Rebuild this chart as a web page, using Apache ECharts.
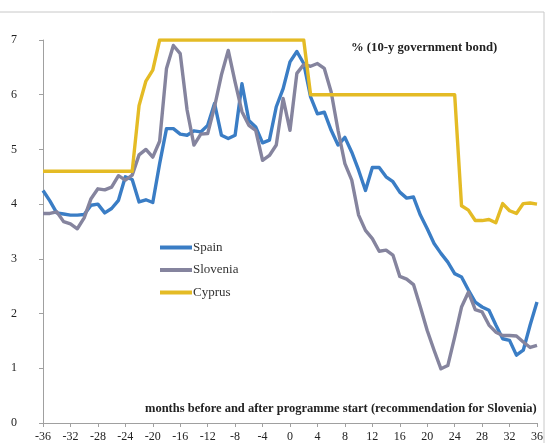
<!DOCTYPE html>
<html>
<head>
<meta charset="utf-8">
<script src="https://cdn.jsdelivr.net/npm/echarts@6/dist/echarts.min.js"></script>
<style>html,body{margin:0;padding:0;background:#fff;}#c{width:546px;height:443px;}</style>
</head>
<body>
<div id="c"></div>
<script>
var months = [-36,-35,-34,-33,-32,-31,-30,-29,-28,-27,-26,-25,-24,-23,-22,-21,-20,-19,-18,-17,-16,-15,-14,-13,-12,-11,-10,-9,-8,-7,-6,-5,-4,-3,-2,-1,0,1,2,3,4,5,6,7,8,9,10,11,12,13,14,15,16,17,18,19,20,21,22,23,24,25,26,27,28,29,30,31,32,33,34,35,36];
var spain = [4.25,4.06,3.84,3.82,3.80,3.80,3.81,3.98,4.00,3.84,3.92,4.07,4.50,4.45,4.04,4.08,4.03,4.74,5.38,5.38,5.28,5.26,5.34,5.32,5.44,5.84,5.26,5.20,5.26,6.20,5.53,5.41,5.12,5.17,5.78,6.11,6.60,6.79,6.57,5.96,5.65,5.68,5.35,5.08,5.22,4.95,4.62,4.25,4.67,4.67,4.50,4.41,4.22,4.11,4.13,3.80,3.55,3.28,3.10,2.94,2.73,2.67,2.43,2.21,2.12,2.06,1.79,1.54,1.51,1.24,1.33,1.79,2.21];
var slovenia = [3.83,3.83,3.86,3.68,3.64,3.55,3.75,4.10,4.28,4.26,4.31,4.52,4.44,4.53,4.90,5.00,4.86,5.15,6.48,6.90,6.75,5.72,5.08,5.28,5.29,5.78,6.36,6.81,6.23,5.69,5.44,5.35,4.80,4.89,5.08,5.93,5.35,6.39,6.55,6.52,6.57,6.48,6.05,5.35,4.74,4.44,3.80,3.52,3.37,3.14,3.16,3.07,2.68,2.63,2.53,2.12,1.69,1.33,0.99,1.05,1.57,2.12,2.39,2.07,2.03,1.79,1.66,1.60,1.60,1.59,1.48,1.38,1.42];
var cyprus = [4.6,4.6,4.6,4.6,4.6,4.6,4.6,4.6,4.6,4.6,4.6,4.6,4.6,4.6,5.8,6.25,6.45,7,7,7,7,7,7,7,7,7,7,7,7,7,7,7,7,7,7,7,7,7,7,6,6,6,6,6,6,6,6,6,6,6,6,6,6,6,6,6,6,6,6,6,6,3.97,3.89,3.70,3.70,3.72,3.66,4.01,3.88,3.83,4.01,4.02,4.00];
var seriesNames = ['Spain','Slovenia','Cyprus'];
var unitLabel = '% (10-y government bond)';
var xAxisLabel = 'months before and after programme start (recommendation for Slovenia)';

function pairs(vals){ return months.map(function(m,i){ return [m, vals[i]]; }); }

var chart = echarts.init(document.getElementById('c'), null, {renderer:'canvas'});
var serif = 'Liberation Serif, Times New Roman, serif';
var colors = ['#3a7dc5','#85849e','#e4bb25'];
chart.setOption({
  animation:false,
  backgroundColor:'#fff',
  graphic:[{type:'rect', silent:true, z:-1, shape:{x:-20,y:12,width:564,height:460}, style:{fill:'none', stroke:'#c8c8c8', lineWidth:1}}],
  title:[
    {text:unitLabel, left:351, top:41, padding:0, textStyle:{fontFamily:serif, fontSize:12.7, fontWeight:'bold', color:'#222'}},
    {text:xAxisLabel, left:145, top:402, padding:0, textStyle:{fontFamily:serif, fontSize:12.5, fontWeight:'bold', color:'#222'}}
  ],
  legend:{
    orient:'vertical', left:160, top:241, padding:0, icon:'rect', itemWidth:32, itemHeight:4, itemGap:9.5,
    textStyle:{fontFamily:serif, fontSize:13, color:'#333', padding:[0,0,0,-4]},
    data:seriesNames
  },
  grid:{left:43, right:4, top:40, bottom:20, containLabel:false},
  xAxis:{
    type:'value', min:-36, max:36, interval:4,
    axisLine:{show:true, onZero:false, lineStyle:{color:'#a0a0a0', width:1}},
    axisTick:{show:true, length:4, lineStyle:{color:'#a0a0a0'}},
    axisLabel:{fontFamily:serif, fontSize:12, color:'#222', margin:8},
    splitLine:{show:false}
  },
  yAxis:{
    type:'value', min:0, max:7, interval:1,
    axisLine:{show:true, onZero:false, lineStyle:{color:'#a0a0a0', width:1}},
    axisTick:{show:true, length:4, lineStyle:{color:'#a0a0a0'}},
    axisLabel:{fontFamily:serif, fontSize:12, color:'#222', margin:26},
    splitLine:{show:false}
  },
  series:[
    {name:seriesNames[0], type:'line', data:pairs(spain), symbol:'none', color:colors[0], lineStyle:{width:3.4, color:colors[0], join:'round'}},
    {name:seriesNames[1], type:'line', data:pairs(slovenia), symbol:'none', color:colors[1], lineStyle:{width:3.4, color:colors[1], join:'round'}},
    {name:seriesNames[2], type:'line', data:pairs(cyprus), symbol:'none', color:colors[2], lineStyle:{width:3.4, color:colors[2], join:'round'}}
  ]
});
</script>
</body>
</html>
